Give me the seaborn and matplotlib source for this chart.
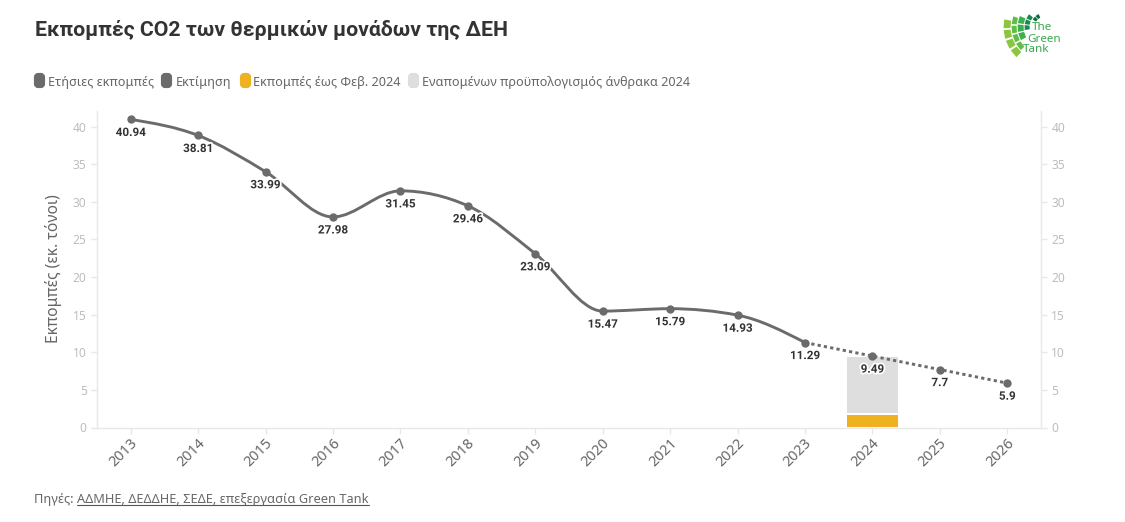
import numpy as np
import pandas as pd
import matplotlib
matplotlib.use("Agg")
import matplotlib.pyplot as plt
import matplotlib.patheffects as pe
from matplotlib.lines import Line2D
from matplotlib.patches import FancyBboxPatch, PathPatch, Polygon
from matplotlib.path import Path
from matplotlib.transforms import ScaledTranslation
import seaborn as sns

# === DATA ===
years = [str(y) for y in range(2013, 2027)]
annual_years = years[:11]
annual = [40.94, 38.81, 33.99, 27.98, 31.45, 29.46, 23.09, 15.47, 15.79, 14.93, 11.29]
estimate_years = ["2023", "2024", "2025", "2026"]
estimate = [11.29, 9.49, 7.7, 5.9]
until_feb = [np.nan] * 11 + [1.75, np.nan, np.nan]
remaining = [np.nan] * 11 + [7.8, np.nan, np.nan]
y_ticks = [0, 5, 10, 15, 20, 25, 30, 35, 40]

title = "Εκπομπές CO2 των θερμικών μονάδων της ΔΕΗ"
ylabel = "Εκπομπές (εκ. τόνοι)"
legend_items = ["Ετήσιες εκπομπές", "Εκτίμηση", "Εκπομπές έως Φεβ. 2024",
                "Εναπομένων προϋπολογισμός άνθρακα 2024"]
source_plain = "Πηγές: "
source_link = "ΑΔΜΗΕ, ΔΕΔΔΗΕ, ΣΕΔΕ, επεξεργασία Green Tank"

GREY = "#6b6b6b"
ORANGE = "#eeb11f"
LIGHT = "#dedede"
AXIS = "#e8e8e8"
W, H = 1125, 522


def fx(px):
    return px / W


def fy(px):
    return 1 - px / H


def monotone_path(x, y):
    # smooth curve through the points, flat at local peaks and dips
    x = np.asarray(x, float)
    y = np.asarray(y, float)
    s = np.diff(y) / np.diff(x)
    t = np.zeros(len(y))
    for i in range(1, len(y) - 1):
        if s[i - 1] * s[i] > 0:
            p = (s[i - 1] + s[i]) / 2
            t[i] = np.sign(s[i]) * min(abs(s[i - 1]), abs(s[i]), 0.5 * abs(p)) * 2
    t[0] = (3 * s[0] - t[1]) / 2
    t[-1] = (3 * s[-1] - t[-2]) / 2
    verts = [(x[0], y[0])]
    codes = [Path.MOVETO]
    for i in range(len(y) - 1):
        h = (x[i + 1] - x[i]) / 3
        verts += [(x[i] + h, y[i] + t[i] * h), (x[i + 1] - h, y[i + 1] - t[i + 1] * h), (x[i + 1], y[i + 1])]
        codes += [Path.CURVE4] * 3
    return Path(verts, codes)


sns.set_theme(style="white")
plt.rcParams["font.family"] = ["Noto Sans", "DejaVu Sans"]

fig = plt.figure(figsize=(W / 100, H / 100), dpi=100)
ax = fig.add_axes([fx(97), fy(427.5), fx(1041 - 97), (427.5 - 111) / H])

# === BARS ===
df = pd.DataFrame({"year": years, "until_feb": until_feb, "remaining": remaining})
sns.barplot(data=df, x="year", y="until_feb", color=ORANGE, saturation=1, width=0.78,
            edgecolor="white", linewidth=1.4, ax=ax, zorder=2)
sns.barplot(data=df, x="year", y="remaining", bottom=df["until_feb"], color=LIGHT, saturation=1, width=0.78,
            edgecolor="white", linewidth=1.4, ax=ax, zorder=2)

# === LINES ===
pos = {y: i for i, y in enumerate(years)}
annual_x = [pos[y] for y in annual_years]
est_x = [pos[y] for y in estimate_years]
ax.add_patch(PathPatch(monotone_path(annual_x, annual), fill=False, edgecolor=GREY, linewidth=2.1, zorder=3,
                       capstyle="round"))
sns.lineplot(x=est_x, y=estimate, color=GREY, linewidth=2.1, linestyle=(0, (1.1, 1.1)), ax=ax, zorder=3)
sns.scatterplot(x=annual_x + est_x[1:], y=annual + estimate[1:], color=GREY, s=36, linewidth=0, ax=ax, zorder=4)

# value labels below each point, white halo over the line
for xp, val in zip(annual_x + est_x[1:], annual + estimate[1:]):
    ax.annotate(f"{val:g}", (xp, val), xytext=(0, -9.4), textcoords="offset points", ha="center", va="center",
                fontsize=8.4, family=["Roboto", "DejaVu Sans"], fontweight="bold", color="#333333", zorder=5,
                path_effects=[pe.withStroke(linewidth=2.5, foreground="white")])

# === AXES ===
ax.set_xlim(-0.5, 13.5)
ax.set_ylim(0, 42.06)
ax.set_yticks(y_ticks)
ax.set_xlabel("")
ax.set_ylabel("")
for side in ["left", "right", "bottom"]:
    ax.spines[side].set_visible(True)
    ax.spines[side].set_color(AXIS)
    ax.spines[side].set_linewidth(1)
ax.spines["top"].set_visible(False)
ax.tick_params(axis="y", left=True, right=True, labelleft=True, labelright=True, length=4.5, width=1,
               color=AXIS, labelcolor="#bdbdbd", labelsize=8.6, pad=3)
ax.tick_params(axis="x", bottom=True, length=4.5, width=1, color=AXIS, labelcolor="#666666", labelsize=10.4, pad=1.5)
plt.setp(ax.get_xticklabels(), rotation=45, ha="center", va="top", rotation_mode="default")
for lab in ax.get_xticklabels():
    lab.set_transform(lab.get_transform() + ScaledTranslation(-7 / 100, 0, fig.dpi_scale_trans))

fig.text(fx(54), fy(269), ylabel, rotation=90, ha="center", va="center", fontsize=11.2, color="#666666")

# === TITLE / LEGEND / SOURCE ===
fig.text(fx(35), fy(30), title, ha="left", va="center", fontsize=15.3, family=["Roboto", "DejaVu Sans"],
         fontweight="bold", color="#333333")

legend_x = [(34, 48), (161, 176), (240, 253), (408, 422)]
legend_colors = [GREY, GREY, ORANGE, LIGHT]
for (box_x, text_x), label, col in zip(legend_x, legend_items, legend_colors):
    fig.add_artist(FancyBboxPatch((fx(box_x + 2), fy(86)), fx(7), 11 / H,
                                  boxstyle="round,pad=0,rounding_size=0.002", mutation_aspect=W / H,
                                  transform=fig.transFigure, facecolor=col, edgecolor=col, linewidth=3))
    fig.text(fx(text_x), fy(82.5), label, ha="left", va="center", fontsize=9.1, color="#666666")

t1 = fig.text(fx(34), fy(499.5), source_plain, ha="left", va="center", fontsize=9.2, color="#666666")
fig.canvas.draw()
r = fig.canvas.get_renderer()
link_x = 77
t2 = fig.text(link_x / W, fy(499.5), source_link, ha="left", va="center", fontsize=9.2, color="#666666")
link_end = t2.get_window_extent(r).x1
fig.add_artist(Line2D([link_x / W, link_end / W], [fy(505), fy(505)], color="#555555", linewidth=0.8))

# === LOGO ===
cx, cy = 1045, 27
# inner radius, outer radius, start angle, end angle, tiles, colour
rings = [(10, 15, 115, 150, 2, "#12693f"),
         (15, 21, 140, 190, 3, "#178a4c"),
         (21, 28, 155, 210, 3, "#3cb04e"),
         (28, 34, 160, 225, 4, "#62bd45"),
         (34, 42, 168, 228, 4, "#8cc63f")]
for r0, r1, a_start, a_end, n, col in rings:
    edges = np.radians(np.linspace(a_start, a_end, n + 1))
    for a0, a1 in zip(edges[:-1], edges[1:]):
        a0b, a1b = a0 + 0.025, a1 - 0.025
        pts = [(cx + rr * np.cos(a), cy - rr * np.sin(a))
               for rr, a in [(r0 + 0.5, a0b), (r1 - 0.5, a0b), (r1 - 0.5, a1b), (r0 + 0.5, a1b)]]
        fig.add_artist(Polygon([(fx(p[0]), fy(p[1])) for p in pts], closed=True, transform=fig.transFigure,
                               facecolor=col, edgecolor="none"))
for word, wx, wy in zip(["The", "Green", "Tank"], [1032, 1027, 1023], [28, 39, 50]):
    fig.text(fx(wx), fy(wy), word, ha="left", va="center", fontsize=8.4, color="#39a84a")

fig.savefig("out.png", dpi=100)
plt.close(fig)
